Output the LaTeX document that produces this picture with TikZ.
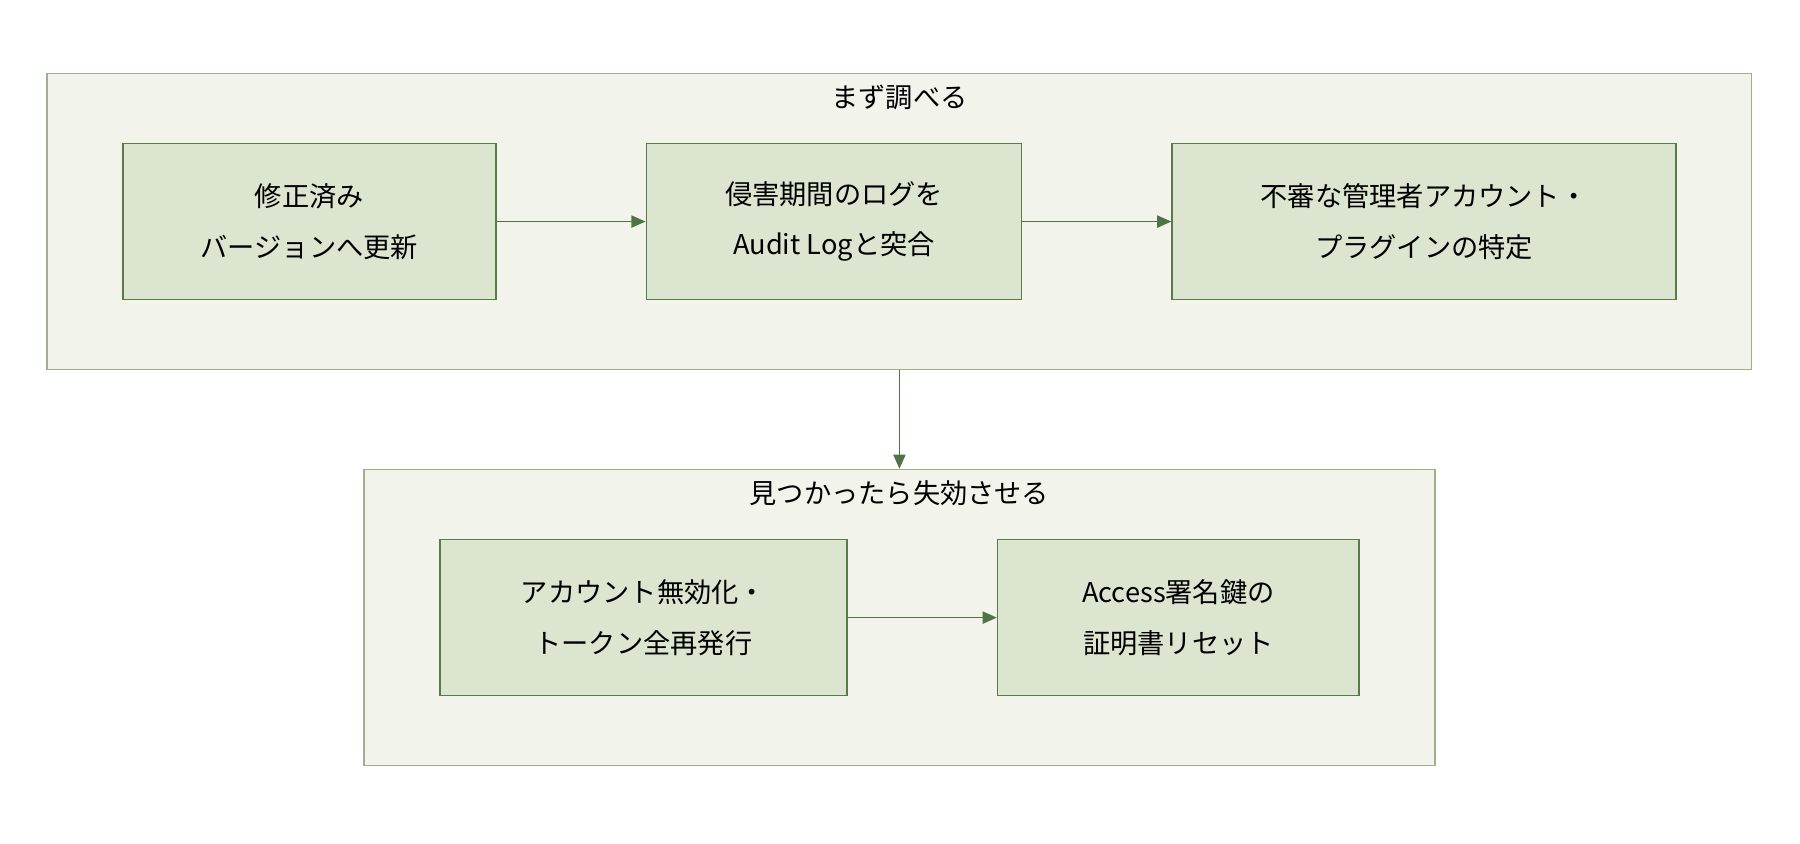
\documentclass[tikz,border=0pt]{standalone}
\usepackage{fontspec}
\setmainfont{Noto Sans CJK JP}
\usetikzlibrary{arrows.meta}
\definecolor{grpfill}{HTML}{F2F4EC}
\definecolor{grpline}{HTML}{9CB08A}
\definecolor{boxfill}{HTML}{DCE5D0}
\definecolor{boxline}{HTML}{5A7A4A}
\definecolor{arrline}{HTML}{4F7344}

\begin{document}
\begin{tikzpicture}[x=0.02cm,y=-0.02cm,
	grp/.style={draw=grpline,fill=grpfill,line width=0.8pt,minimum height=5.16cm,inner sep=0pt},
	stepbox/.style={draw=boxline,fill=boxfill,line width=0.8pt,minimum height=2.72cm,align=center,
		font=\fontsize{13.5}{25}\selectfont},
	ttl/.style={font=\fontsize{13.5}{16}\selectfont},
	flow/.style={-{Triangle[length=7pt,width=6pt]},draw=arrline,line width=0.8pt}]
	\useasboundingbox (0,0) rectangle (1568,735);
	% groups
	\node[grp,minimum width=29.7cm] (g1) at (783.5,193) {};
	\node[grp,minimum width=18.66cm] (g2) at (783.5,538) {};
	\node[ttl] (t1) at (783.5,85) {まず調べる};
	\node[ttl] (t2) at (783.5,430) {見つかったら失効させる};
	% steps
	\node[stepbox,minimum width=6.5cm]  (fix)   at (269.5,193) {修正済み\\バージョンへ更新};
	\node[stepbox,minimum width=6.54cm] (audit) at (726.5,193) {侵害期間のログを\\Audit Logと突合};
	\node[stepbox,minimum width=8.78cm] (find)  at (1240.5,193) {不審な管理者アカウント・\\プラグインの特定};
	\node[stepbox,minimum width=7.1cm]  (revoke) at (560.5,538) {アカウント無効化・\\トークン全再発行};
	\node[stepbox,minimum width=6.3cm]  (cert)  at (1026.5,538) {Access署名鍵の\\証明書リセット};
	% arrows
	\draw[flow] (fix) -- (audit);
	\draw[flow] (audit) -- (find);
	\draw[flow] (revoke) -- (cert);
	\draw[flow] (g1) -- (g2);
\end{tikzpicture}
\end{document}
